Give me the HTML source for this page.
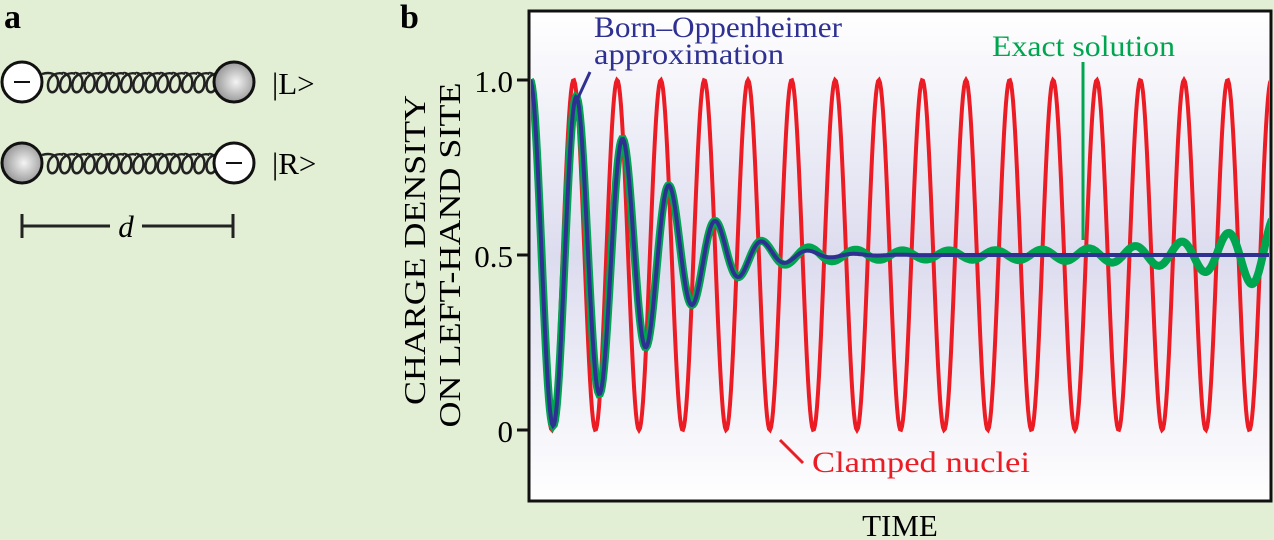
<!DOCTYPE html>
<html><head><meta charset="utf-8"><style>
body{margin:0;width:1274px;height:540px;background:#e3efd5;overflow:hidden;font-family:"Liberation Serif",serif}
svg{position:absolute;left:0;top:0}
</style></head><body>
<svg width="1274" height="540" viewBox="0 0 1274 540">
<defs>
<linearGradient id="bg" x1="0" y1="0" x2="0" y2="1">
<stop offset="0" stop-color="#ffffff"/><stop offset="0.5" stop-color="#dcdcef"/><stop offset="1" stop-color="#ffffff"/>
</linearGradient>
<radialGradient id="ball" cx="0.55" cy="0.5" r="0.6">
<stop offset="0" stop-color="#f4f4f4"/><stop offset="1" stop-color="#8a8a8a"/>
</radialGradient>
</defs>
<text x="4" y="28" font-size="34" font-weight="bold">a</text>
<text x="400" y="28" font-size="34" font-weight="bold">b</text>
<g id="springs" fill="none" stroke="#222" stroke-width="2.5"></g>
<circle cx="22" cy="82" r="20" fill="#fff" stroke="#111" stroke-width="3"/>
<line x1="14" y1="82" x2="30" y2="82" stroke="#111" stroke-width="2"/>
<circle cx="234" cy="82" r="20" fill="url(#ball)" stroke="#111" stroke-width="3"/>
<circle cx="22" cy="163" r="20" fill="url(#ball)" stroke="#111" stroke-width="3"/>
<circle cx="234" cy="163" r="20" fill="#fff" stroke="#111" stroke-width="3"/>
<line x1="226" y1="163" x2="242" y2="163" stroke="#111" stroke-width="2"/>
<text x="272" y="94" font-size="31">|L&gt;</text>
<text x="272" y="174" font-size="31">|R&gt;</text>
<line x1="22" y1="214" x2="22" y2="238" stroke="#222" stroke-width="3"/>
<line x1="233" y1="214" x2="233" y2="238" stroke="#222" stroke-width="3"/>
<line x1="22" y1="226" x2="110" y2="226" stroke="#222" stroke-width="3"/>
<line x1="142" y1="226" x2="233" y2="226" stroke="#222" stroke-width="3"/>
<text x="126" y="237" font-size="31" font-style="italic" text-anchor="middle">d</text>

<rect x="529" y="11" width="742" height="490" fill="url(#bg)" stroke="#111" stroke-width="3"/>
<line x1="517" y1="80" x2="529" y2="80" stroke="#111" stroke-width="3"/>
<line x1="517" y1="255" x2="529" y2="255" stroke="#111" stroke-width="3"/>
<line x1="517" y1="430" x2="529" y2="430" stroke="#111" stroke-width="3"/>
<text x="513" y="92" font-size="31" text-anchor="end">1.0</text>
<text x="513" y="267" font-size="31" text-anchor="end">0.5</text>
<text x="513" y="442" font-size="31" text-anchor="end">0</text>
<text transform="translate(425,250) rotate(-90)" font-size="31" text-anchor="middle" textLength="310" lengthAdjust="spacingAndGlyphs">CHARGE DENSITY</text>
<text transform="translate(460,255) rotate(-90)" font-size="31" text-anchor="middle" textLength="345" lengthAdjust="spacingAndGlyphs">ON LEFT-HAND SITE</text>
<text x="900" y="536" font-size="31" text-anchor="middle">TIME</text>
<clipPath id="cp"><rect x="531" y="13" width="738" height="486"/></clipPath>
<g clip-path="url(#cp)">
<path id="red" fill="none" stroke="#ec1c24" stroke-width="4"/>
<path id="green" fill="none" stroke="#00a54f" stroke-width="8"/>
<path id="blue" fill="none" stroke="#2e3192" stroke-width="4"/>
</g>
<line x1="1083" y1="62" x2="1083" y2="240" stroke="#00a54f" stroke-width="3"/>
<line x1="578" y1="98" x2="590" y2="72" stroke="#2e3192" stroke-width="3"/>
<line x1="780" y1="440" x2="803" y2="463" stroke="#ec1c24" stroke-width="3"/>
<text x="594" y="37" font-size="30" fill="#2e3192" textLength="248" lengthAdjust="spacingAndGlyphs">Born–Oppenheimer</text>
<text x="594" y="64" font-size="30" fill="#2e3192" textLength="190" lengthAdjust="spacingAndGlyphs">approximation</text>
<text x="992" y="56" font-size="30" fill="#00a54f" textLength="183" lengthAdjust="spacingAndGlyphs">Exact solution</text>
<text x="812" y="472" font-size="30" fill="#ec1c24" textLength="218" lengthAdjust="spacingAndGlyphs">Clamped nuclei</text>
</svg>
<script>
function Y(v){return 430-350*v;}
var r="",b="",g="";
for(var x=530;x<=1272;x+=1){
 var t=x-530;
 var rv=0.5+0.5*Math.cos(2*Math.PI*t/43.6);
 var amp=0.5*Math.exp(-Math.pow(t/145,2));
 var bv=0.5+amp*Math.cos(2*Math.PI*t/46.5);
 var rev=(0.004*Math.exp((x-1050)/70)+0.012)*(1/(1+Math.exp(-(x-790)/15)));
 var gv=bv+rev*Math.cos(2*Math.PI*(x-1228)/46.5);
 var c=(x==530?"M":"L");
 r+=c+x+","+Y(rv).toFixed(1);b+=c+x+","+Y(bv).toFixed(1);g+=c+x+","+Y(gv).toFixed(1);
}
document.getElementById("red").setAttribute("d",r);
document.getElementById("blue").setAttribute("d",b);
document.getElementById("green").setAttribute("d",g);
var s="";
[82,163].forEach(function(cy){
 s+="M42,"+(cy-8);
 for(var i=0;i<14;i++){var cx=51+i*12.2;
  s+=" C"+(cx-3)+","+(cy-10)+" "+(cx+8)+","+(cy-10)+" "+(cx+7)+","+(cy+2)+" C"+(cx+6)+","+(cy+13)+" "+(cx-4)+","+(cy+13)+" "+(cx-3)+","+(cy+2)+" C"+(cx-2)+","+(cy-8)+" "+(cx+8)+","+(cy-10)+" "+(cx+12)+","+(cy-8);}
 s+=" L214,"+(cy-8)+" ";});
var p=document.createElementNS("http://www.w3.org/2000/svg","path");p.setAttribute("d",s);
document.getElementById("springs").appendChild(p);
</script>
</body></html>
